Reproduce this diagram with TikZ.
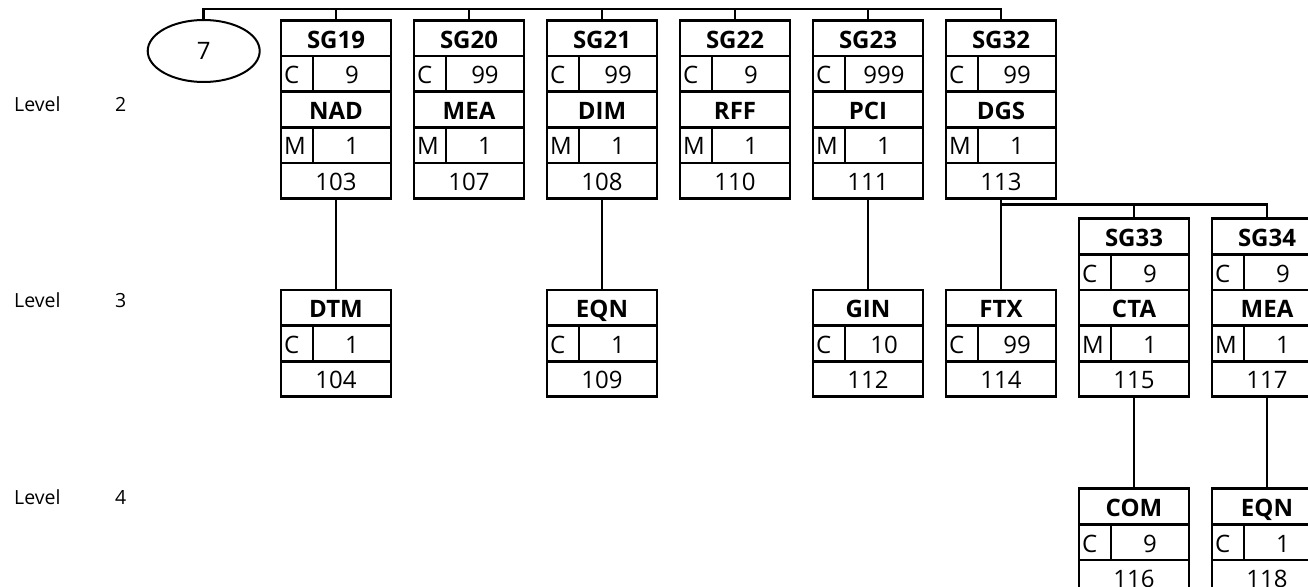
\documentclass[tikz,border=0pt]{standalone}
\usepackage{fontspec}
\setmainfont{Open Sans}
\usetikzlibrary{shapes.multipart, shapes.geometric, positioning}

\newcommand{\rowstrut}{\rule[-6.6pt]{0pt}{32.8pt}}
\newcommand{\segname}[1]{\rowstrut\textbf{#1}}
\newcommand{\segrep}[2]{\rowstrut\makebox[32pt][l]{\hspace{3pt}#1}\makebox[78pt]{#2}}
\newcommand{\segpos}[1]{\rowstrut#1}

\begin{document}
\begin{tikzpicture}[x=1pt, y=-1pt,
        seg/.style={draw, line width=2.8pt, rectangle split, rectangle split parts=#1, inner sep=0pt, outer sep=0pt, minimum width=110pt, font=\fontsize{24}{28}\selectfont},
        conn/.style={line width=2.5pt},
        divider/.style={line width=2.5pt},
        lvl/.style={anchor=base west, inner sep=0pt, font=\fontsize{19.5}{23}\selectfont}
    ]
        \useasboundingbox (0,0) rectangle (1308,586);
        \clip (0,0) rectangle (1308,586);
        \fill[white] (0,0) rectangle (1308,586);

        % level labels
        \node[lvl] (lvl2) at (14,111) {Level};
        \node[lvl] (lvl2n) at (115,111) {2};
        \node[lvl] (lvl3) at (14,307) {Level};
        \node[lvl] (lvl3n) at (115,307) {3};
        \node[lvl] (lvl4) at (14,504.5) {Level};
        \node[lvl] (lvl4n) at (115,504.5) {4};

        \node[draw, ellipse, line width=2pt, minimum width=112pt, minimum height=62pt, inner sep=0pt, outer sep=0pt, font=\fontsize{24}{28}\selectfont] (seven) at (203.7,51) {7};

        % level 2
        \node[seg=5, anchor=north] (sg19) at (336,20.5) {\segname{SG19}\nodepart{two}\segrep{C}{9}\nodepart{three}\segname{NAD}\nodepart{four}\segrep{M}{1}\nodepart{five}\segpos{103}};
        \node[seg=5, right=23pt of sg19] (sg20) {\segname{SG20}\nodepart{two}\segrep{C}{99}\nodepart{three}\segname{MEA}\nodepart{four}\segrep{M}{1}\nodepart{five}\segpos{107}};
        \node[seg=5, right=23pt of sg20] (sg21) {\segname{SG21}\nodepart{two}\segrep{C}{99}\nodepart{three}\segname{DIM}\nodepart{four}\segrep{M}{1}\nodepart{five}\segpos{108}};
        \node[seg=5, right=23pt of sg21] (sg22) {\segname{SG22}\nodepart{two}\segrep{C}{9}\nodepart{three}\segname{RFF}\nodepart{four}\segrep{M}{1}\nodepart{five}\segpos{110}};
        \node[seg=5, right=23pt of sg22] (sg23) {\segname{SG23}\nodepart{two}\segrep{C}{999}\nodepart{three}\segname{PCI}\nodepart{four}\segrep{M}{1}\nodepart{five}\segpos{111}};
        \node[seg=5, right=23pt of sg23] (sg32) {\segname{SG32}\nodepart{two}\segrep{C}{99}\nodepart{three}\segname{DGS}\nodepart{four}\segrep{M}{1}\nodepart{five}\segpos{113}};

        % level 3
        \node[seg=3, below=91.5pt of sg19] (dtm) {\segname{DTM}\nodepart{two}\segrep{C}{1}\nodepart{three}\segpos{104}};
        \node[seg=3, below=91.5pt of sg21] (eqnA) {\segname{EQN}\nodepart{two}\segrep{C}{1}\nodepart{three}\segpos{109}};
        \node[seg=3, below=91.5pt of sg23] (gin) {\segname{GIN}\nodepart{two}\segrep{C}{10}\nodepart{three}\segpos{112}};
        \node[seg=3, below=91.5pt of sg32] (ftx) {\segname{FTX}\nodepart{two}\segrep{C}{99}\nodepart{three}\segpos{114}};
        \node[seg=5, right=23pt of ftx.south east, anchor=south west] (sg33) {\segname{SG33}\nodepart{two}\segrep{C}{9}\nodepart{three}\segname{CTA}\nodepart{four}\segrep{M}{1}\nodepart{five}\segpos{115}};
        \node[seg=5, right=23pt of sg33] (sg34) {\segname{SG34}\nodepart{two}\segrep{C}{9}\nodepart{three}\segname{MEA}\nodepart{four}\segrep{M}{1}\nodepart{five}\segpos{117}};

        % level 4
        \node[seg=3, below=92pt of sg33] (com) {\segname{COM}\nodepart{two}\segrep{C}{9}\nodepart{three}\segpos{116}};
        \node[seg=3, below=92pt of sg34] (eqnB) {\segname{EQN}\nodepart{two}\segrep{C}{1}\nodepart{three}\segpos{118}};

        % C/M dividers
        \foreach \n in {sg19,sg20,sg21,sg22,sg23,sg32,sg33,sg34}
            \draw[divider] ([xshift=32pt]\n.text split west) -- ([xshift=32pt]\n.two split west)
                           ([xshift=32pt]\n.three split west) -- ([xshift=32pt]\n.four split west);
        \foreach \n in {dtm,eqnA,gin,ftx,com,eqnB}
            \draw[divider] ([xshift=32pt]\n.text split west) -- ([xshift=32pt]\n.two split west);

        % connectors
        \coordinate (bus) at (0,9);
        \coordinate (branch) at (0,204.7);
        \draw[conn] (seven.north) |- (bus -| sg32.north) -- (sg32.north);
        \foreach \n in {sg19,sg20,sg21,sg22,sg23}
            \draw[conn] (\n.north |- bus) -- (\n.north);
        \draw[conn] (sg19.south) -- (dtm.north);
        \draw[conn] (sg21.south) -- (eqnA.north);
        \draw[conn] (sg23.south) -- (gin.north);
        \draw[conn] (sg32.south) -- (ftx.north);
        \draw[conn] (sg32.south |- branch) -| (sg34.north);
        \draw[conn] (sg33.north |- branch) -- (sg33.north);
        \draw[conn] (sg33.south) -- (com.north);
        \draw[conn] (sg34.south) -- (eqnB.north);
    \end{tikzpicture}
\end{document}
